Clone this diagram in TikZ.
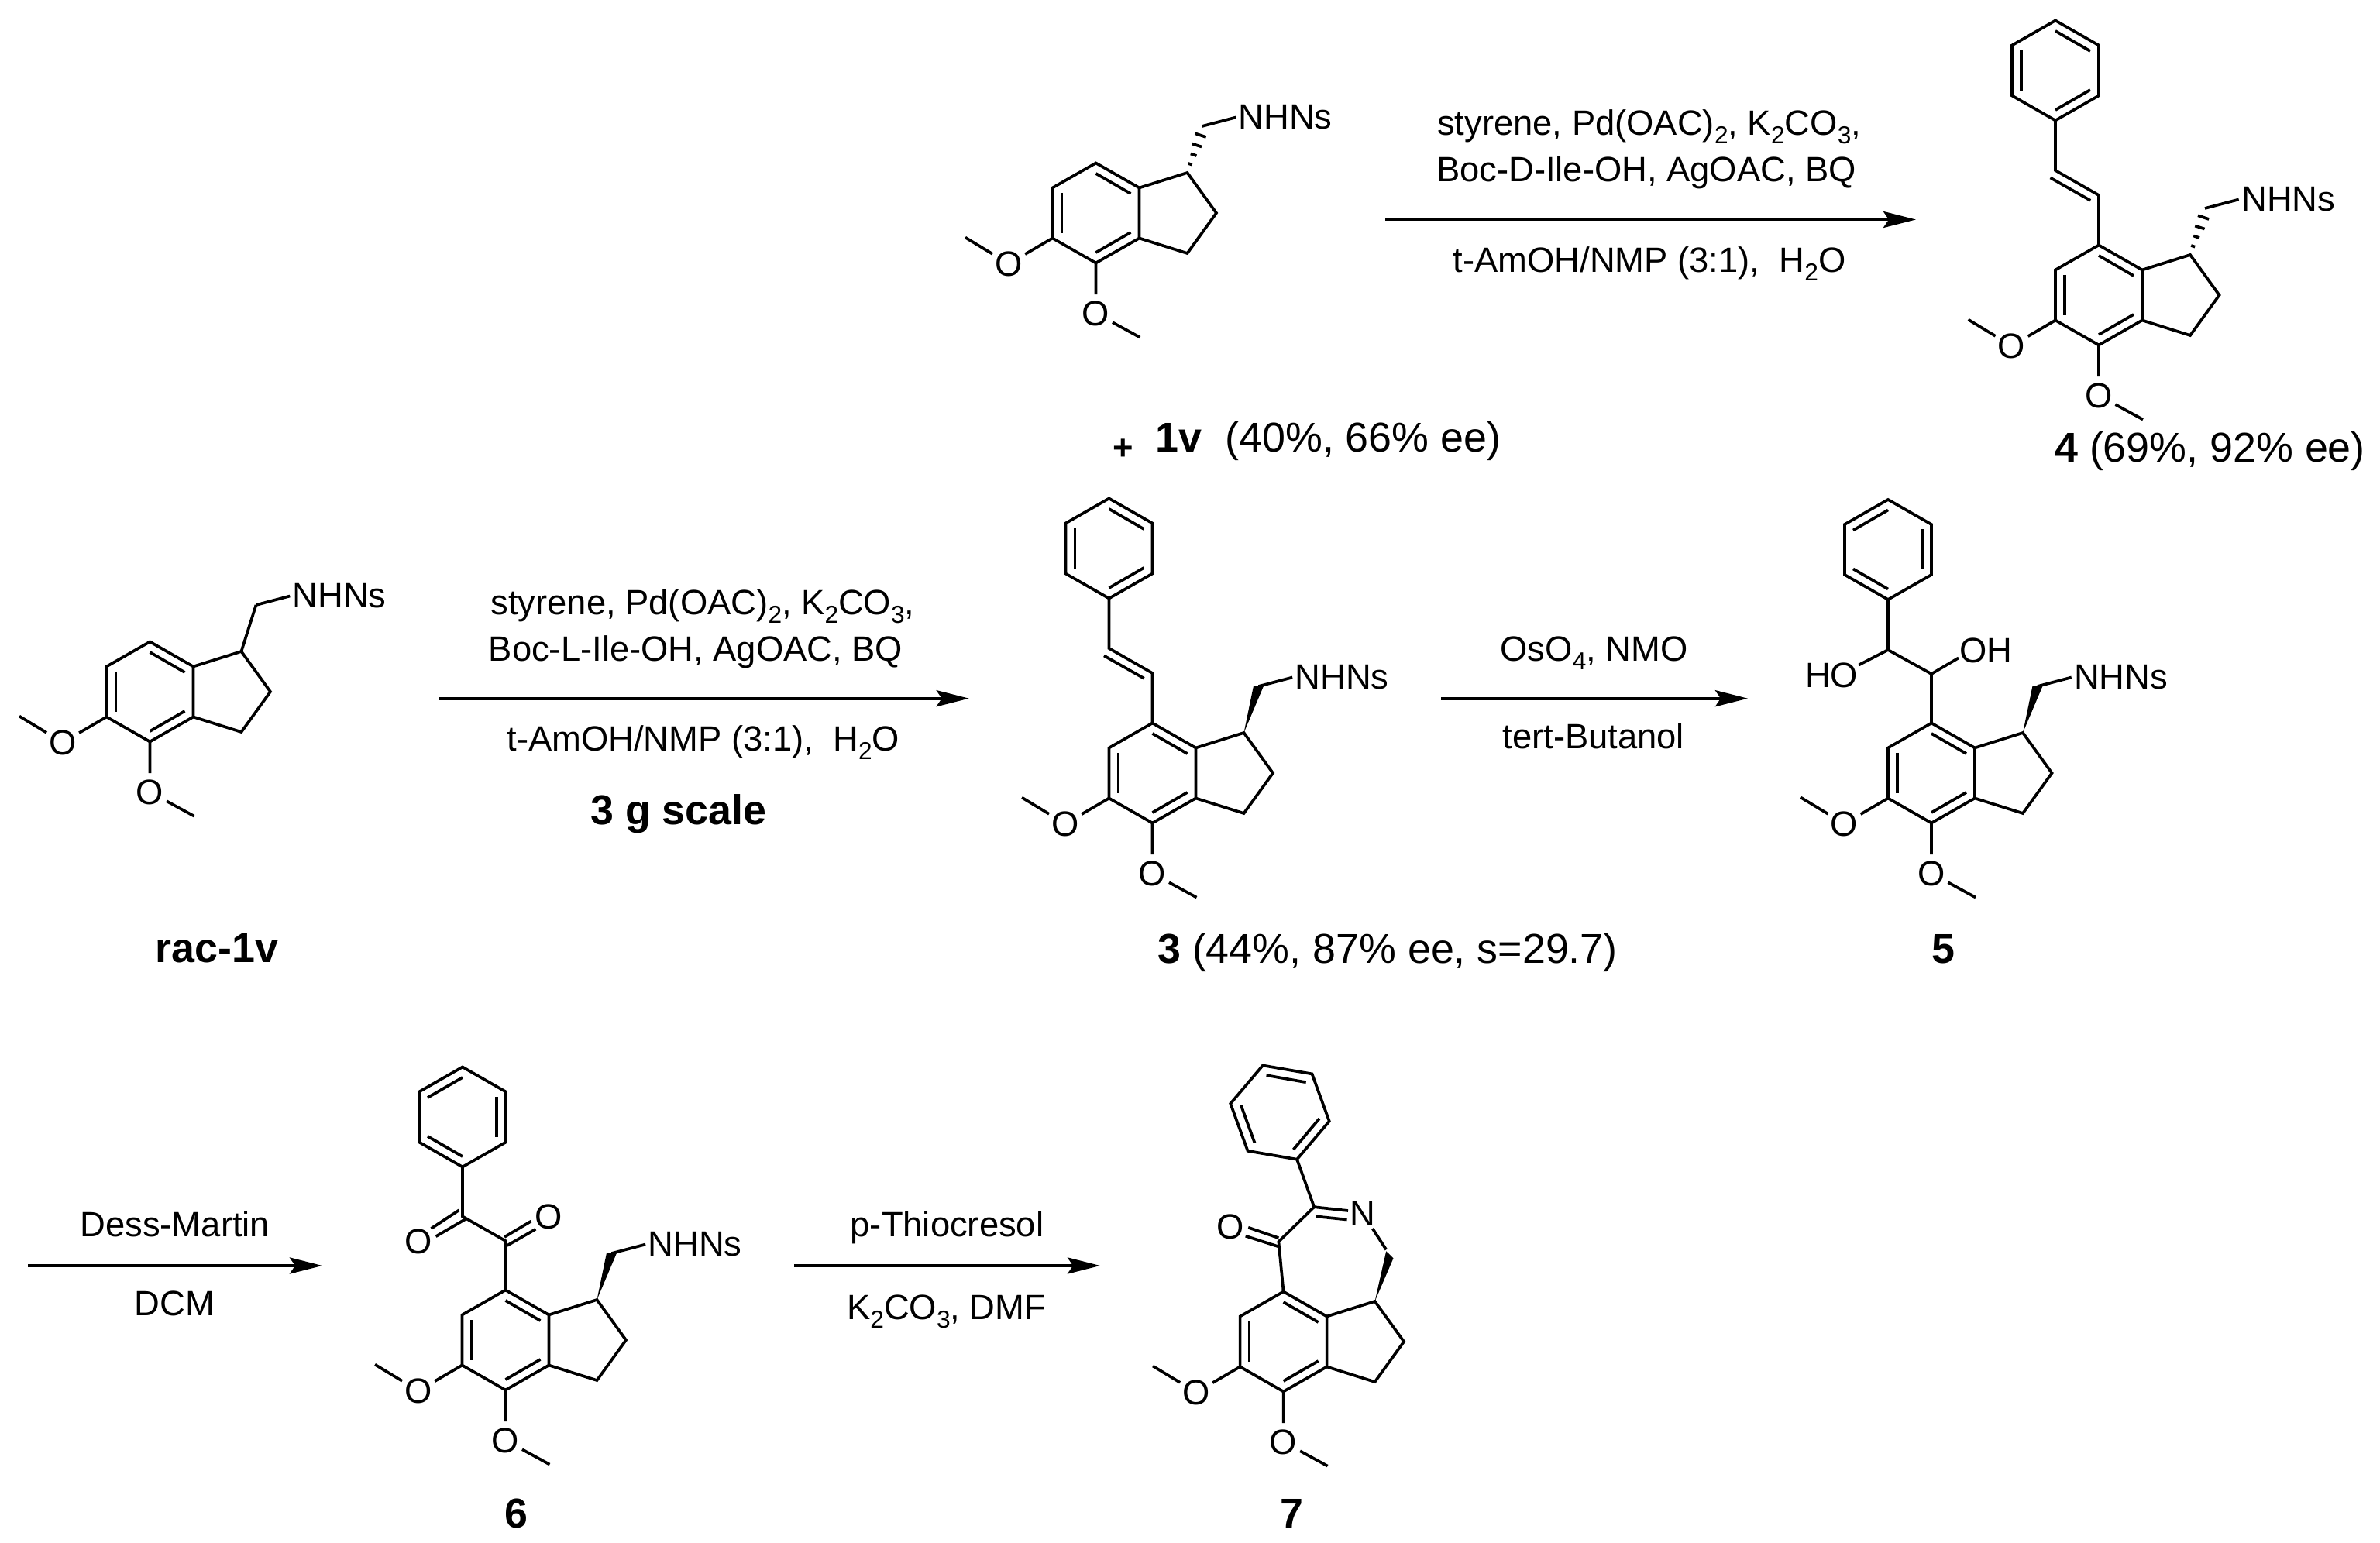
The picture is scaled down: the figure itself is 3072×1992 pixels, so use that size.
\documentclass[tikz,border=0pt]{standalone}
\usepackage{fontspec}
\setmainfont{Liberation Sans}
\usetikzlibrary{arrows.meta}
\newcommand{\txtfont}{\fontsize{12.9}{15}\selectfont}
\newcommand{\lblfont}{\fontsize{15.3}{18}\selectfont}
\newcommand{\chemsub}[1]{\raisebox{-0.45ex}{\fontsize{9}{9}\selectfont #1}}
\tikzset{
    bond/.style={line width=1.05pt},
    rxn/.style={line width=1.1pt, -{Stealth[length=4.2mm,width=2.1mm,inset=0.7mm]}},
    oatom/.style={circle, inner sep=0pt, font=\txtfont},
    txt/.style={inner sep=0pt, font=\txtfont},
    reagent/.style={anchor=base, inner sep=0pt, font=\txtfont},
    cpdlabel/.style={anchor=base, inner sep=0pt, font=\lblfont}
}
% six-membered ring, prefix and scope options
\newcommand{\benzring}[2]{
    \begin{scope}[#2]
        \coordinate (#1a) at (0, -64.5);
        \coordinate (#1b) at (56, -32.5);
        \coordinate (#1c) at (56, 32.5);
        \coordinate (#1d) at (0, 64.5);
        \coordinate (#1e) at (-56, 32.5);
        \coordinate (#1f) at (-56, -32.5);
        \draw[bond] (#1a) -- (#1b) -- (#1c) -- (#1d) -- (#1e) -- (#1f) -- cycle;
        \draw[bond] (0, -51) to (45, -25);
        \draw[bond] (-44, -26) to (-44, 26);
        \draw[bond] (0, 51) to (45, 25);
    \end{scope}
}
% ring, five-ring and the two OMe groups
\newcommand{\indanecore}[1]{
    \benzring{#1}{}
    \coordinate (#1p) at (118, -52);
    \coordinate (#1q) at (155.5, 0);
    \coordinate (#1r) at (118, 52);
    \draw[bond] (#1b) -- (#1p) -- (#1q) -- (#1r) -- (#1c);
    \node[oatom] (#1oa) at (-112.5, 65.5) {O};
    \node[oatom] (#1ob) at (0, 129.5) {O};
    \coordinate (#1ma) at (-168.5, 31.6);
    \coordinate (#1mb) at (57, 160.6);
    \draw[bond] (#1e) -- (#1oa) -- (#1ma);
    \draw[bond] (#1d) -- (#1ob) -- (#1mb);
}
\newcommand{\nhnsarm}[1]{
    \coordinate (#1ch) at (137, -112);
    \node[txt, anchor=west, inner sep=0.8pt] (#1n) at (180.7, -123.5) {NHNs};
    \draw[bond] (#1ch) -- (#1n.west);
}
\newcommand{\wedgearm}[1]{
    \fill (#1p) -- (130.5, -112.5) -- (144, -113.5) -- cycle;
    \nhnsarm{#1}
}
\newcommand{\hasharm}[1]{
    \foreach \xa/\ya/\xb/\yb in {128/-102.7/142.2/-98, 124.2/-89.4/136.5/-85.5, 122.3/-76.5/129.9/-73.9, 119.2/-64/124.2/-62.3}{
        \draw[bond] (\xa, \ya) to (\xb, \yb);
    }
    \nhnsarm{#1}
}
\newcommand{\styryl}[1]{
    \coordinate (#1v) at (0, -129);
    \coordinate (#1w) at (-56, -161);
    \benzring{#1h}{shift={(-56, -290)}}
    \draw[bond] (#1a) -- (#1v) -- (#1w) -- (#1hd);
    \draw[bond] (-62.5, -151.5) to (-10.8, -122.2);
}
\begin{document}
\begin{tikzpicture}[x=0.01cm, y=-0.01cm]
    \useasboundingbox (0, 0) rectangle (3072, 1992);
    % 1v
    \begin{scope}[shift={(1414.5, 275)}]
        \indanecore{ma}
        \hasharm{ma}
    \end{scope}
    \node[txt, anchor=base, font=\txtfont\bfseries] (plus) at (1449.5, 594) {+};
    \node[cpdlabel, anchor=base west] (lbla) at (1491, 584) {\textbf{1v}\ \ (40\%, 66\% ee)};
    % top arrow
    \coordinate (sa) at (1788, 283.5);
    \coordinate (ea) at (2473, 283.5);
    \draw[rxn] (sa) -- (ea);
    \node[reagent] (ra) at (2128.6, 175) {styrene, Pd(OAC)\chemsub{2}, K\chemsub{2}CO\chemsub{3},};
    \node[reagent] (rb) at (2125, 235) {Boc-D-Ile-OH, AgOAC, BQ};
    \node[reagent] (rc) at (2129, 351.7) {t-AmOH/NMP (3:1),\ \ H\chemsub{2}O};
    % 4
    \begin{scope}[shift={(2709, 381)}]
        \indanecore{mb}
        \hasharm{mb}
        \styryl{mb}
    \end{scope}
    \node[cpdlabel] (lblb) at (2852.5, 597) {\textbf{4} (69\%, 92\% ee)};
    % rac-1v
    \begin{scope}[shift={(193.5, 893)}]
        \indanecore{mc}
        \nhnsarm{mc}
        \draw[bond] (mcp) -- (mcch);
    \end{scope}
    \node[cpdlabel] (lblc) at (280, 1242.7) {\textbf{rac-1v}};
    % middle arrows
    \coordinate (sb) at (566.3, 901.7);
    \coordinate (eb) at (1250.7, 901.7);
    \draw[rxn] (sb) -- (eb);
    \node[reagent] (rd) at (907, 793.3) {styrene, Pd(OAC)\chemsub{2}, K\chemsub{2}CO\chemsub{3},};
    \node[reagent] (re) at (898, 853.3) {Boc-L-Ile-OH, AgOAC, BQ};
    \node[reagent] (rf) at (907.8, 970) {t-AmOH/NMP (3:1),\ \ H\chemsub{2}O};
    \node[cpdlabel] (rg) at (876, 1065) {\textbf{3 g scale}};
    % 3
    \begin{scope}[shift={(1487.5, 998)}]
        \indanecore{md}
        \wedgearm{md}
        \styryl{md}
    \end{scope}
    \node[cpdlabel] (lbld) at (1791, 1244) {\textbf{3} (44\%, 87\% ee, s=29.7)};
    \coordinate (sc) at (1860, 901.7);
    \coordinate (ec) at (2256, 901.7);
    \draw[rxn] (sc) -- (ec);
    \node[reagent] (rh) at (2057.5, 853.3) {OsO\chemsub{4}, NMO};
    \node[reagent] (ri) at (2056.7, 966.7) {tert-Butanol};
    % 5
    \begin{scope}[shift={(2493, 998)}]
        \indanecore{me}
        \wedgearm{me}
        \benzring{meh}{shift={(-56, -288.5)}, xscale=-1}
        \coordinate (mev) at (0, -128);
        \coordinate (mew) at (-56, -159);
        \draw[bond] (mea) -- (mev) -- (mew) -- (mehd);
        \node[txt] (meoh) at (70.6, -158) {OH};
        \node[txt] (meho) at (-129, -126) {HO};
        \coordinate (meohe) at (35, -148.6);
        \coordinate (mehoe) at (-93.6, -139.6);
        \draw[bond] (mev) -- (meohe);
        \draw[bond] (mew) -- (mehoe);
    \end{scope}
    \node[cpdlabel] (lble) at (2508.5, 1243) {\textbf{5}};
    % bottom arrows
    \coordinate (sd) at (36, 1634);
    \coordinate (ed) at (416, 1634);
    \draw[rxn] (sd) -- (ed);
    \node[reagent] (rj) at (225.8, 1596.7) {Dess-Martin};
    \node[reagent] (rk) at (225.3, 1698.3) {DCM};
    % 6
    \begin{scope}[shift={(652.5, 1730)}]
        \indanecore{mf}
        \wedgearm{mf}
        \benzring{mfh}{shift={(-55.5, -288)}, xscale=-1}
        \coordinate (mfv) at (0, -128);
        \coordinate (mfw) at (-55.5, -159.6);
        \draw[bond] (mfa) -- (mfv) -- (mfw) -- (mfhd);
        \node[oatom] (mfoa) at (55.5, -158.8) {O};
        \node[oatom] (mfob) at (-112.5, -127) {O};
        \draw[bond] (-1.4, -133) to (33, -153.4);
        \draw[bond] (2.1, -122) to (38.9, -143.2);
        \draw[bond] (-59.9, -167.7) to (-96, -144);
        \draw[bond] (-51.3, -156.3) to (-89.9, -133.8);
    \end{scope}
    \node[cpdlabel] (lblf) at (666, 1972.5) {\textbf{6}};
    \coordinate (se) at (1025, 1634);
    \coordinate (ee) at (1420, 1634);
    \draw[rxn] (se) -- (ee);
    \node[reagent] (rl) at (1222.5, 1596.7) {p-Thiocresol};
    \node[reagent] (rm) at (1221.7, 1703.3) {K\chemsub{2}CO\chemsub{3}, DMF};
    % 7
    \begin{scope}[shift={(1656.6, 1732)}]
        \indanecore{mg}
        \benzring{mgh}{shift={(-4.6, -295.9)}, rotate=20}
        \coordinate (mgv) at (-6.2, -129);
        \coordinate (mgw) at (39.6, -173.8);
        \coordinate (mgch) at (132.6, -118.7);
        \node[oatom] (mgn) at (102.4, -165.6) {N};
        \node[oatom] (mgo) at (-68.8, -148.1) {O};
        \draw[bond] (mga) -- (mgv) -- (mgw) -- (mghd);
        \draw[bond] (mgch) -- (mgn);
        \fill (mgp) -- (132.6, -116.7) -- (141.9, -107.7) -- cycle;
        \draw[bond] (39.6, -173.8) to (83.4, -169);
        \draw[bond] (42.1, -161.6) to (82, -157.5);
        \draw[bond] (-6.2, -133.8) to (-45.4, -147.3);
        \draw[bond] (-6.8, -122.8) to (-48.9, -136.3);
    \end{scope}
    \node[cpdlabel] (lblg) at (1667, 1972.5) {\textbf{7}};
\end{tikzpicture}
\end{document}
